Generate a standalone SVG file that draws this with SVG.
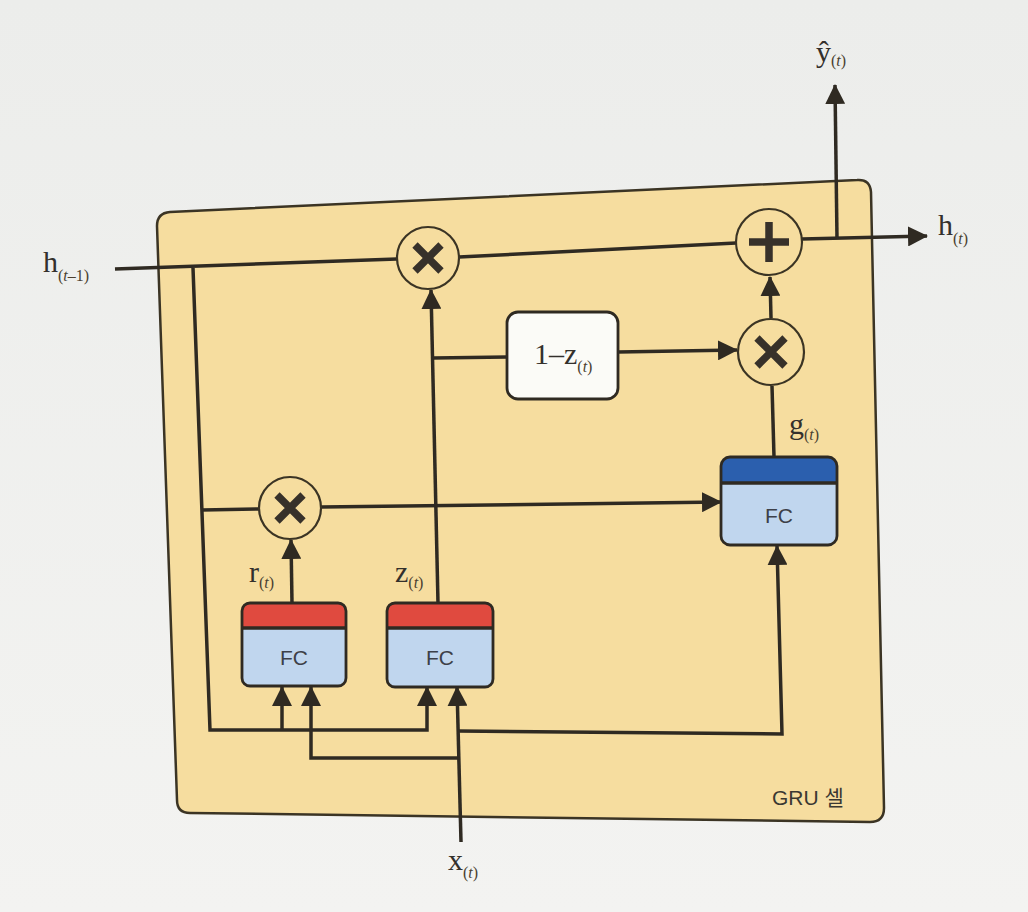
<svg xmlns="http://www.w3.org/2000/svg" width="1028" height="912" viewBox="0 0 1028 912">
<defs>
<linearGradient id="bg" x1="0" y1="0" x2="0" y2="1">
<stop offset="0" stop-color="#ecedeb"/>
<stop offset="1" stop-color="#f3f3f1"/>
</linearGradient>
<marker id="arr" viewBox="0 0 20 20" refX="19" refY="10" markerWidth="20" markerHeight="20" markerUnits="userSpaceOnUse" orient="auto">
<path d="M0,0 L20,10 L0,20 Z" fill="#2f2a22"/>
</marker>
</defs>
<style>
.ln{fill:none;stroke:#2f2a22;stroke-width:3.5;stroke-linejoin:miter}
.ar{marker-end:url(#arr)}
.op{fill:#f6dd9f;stroke:#3b3424;stroke-width:2.2}
.gl{stroke:#37312a;stroke-width:7.5;stroke-linecap:butt}
.fcb{fill:#c0d6ee}
.fco{fill:none;stroke:#2f2a22;stroke-width:2.8}
.red{fill:#e04a3f}
.blu{fill:#2b5fae}
.fct{font-family:"Liberation Sans",Arial,sans-serif;font-size:21px;fill:#3d4048;text-anchor:middle}
.lab{font-family:"Liberation Serif","Times New Roman",serif;font-size:30px;fill:#33302c}
.sub{font-size:16px;fill:#4a3f30}
.it{font-style:italic}
.cap{font-family:"Liberation Sans","Noto Sans CJK KR",sans-serif;font-size:21px;fill:#3a3832}
</style>
<rect x="0" y="0" width="1028" height="912" fill="url(#bg)"/>

<g id="cell">
<path d="M157,226 Q157,213 170,212 L857,180 Q870,179 871,192 L884,808 Q884,822 870,822 L190,813 Q177,813 177,800 Z" fill="#f6dd9f" stroke="#3b3424" stroke-width="2.5"/>
<text class="cap" x="772" y="805">GRU <tspan font-family="'Noto Sans CJK KR',sans-serif">셀</tspan></text>
</g>

<g id="connectors">
<path class="ln" d="M115,269 L397,259"/>
<path class="ln" d="M459,257 L736,243"/>
<path class="ln ar" d="M802,239 L927,236"/>
<path class="ln ar" d="M837,239 L835,85"/>
<path class="ln ar" d="M193,268 L210,730 L427,730 L427,687"/>
<path class="ln ar" d="M282,730 L282,687"/>
<path class="ln ar" d="M458,758 L311,758 L311,687"/>
<path class="ln ar" d="M461,842 L457,687"/>
<path class="ln ar" d="M458,731 L782,734 L777,546"/>
<path class="ln" d="M202,510 L259,509"/>
<path class="ln ar" d="M321,507 L721,502"/>
<path class="ln ar" d="M292,603 L291,540"/>
<path class="ln ar" d="M438,603 L431,290"/>
<path class="ln" d="M433,358 L507,357"/>
<path class="ln ar" d="M618,352 L737,350"/>
<path class="ln" d="M774,457 L772,386"/>
<path class="ln ar" d="M771,318 L770,277"/>
</g>

<g id="mul1">
<circle class="op" cx="428" cy="258" r="31"/>
<path class="gl" d="M415,245 L441,271 M441,245 L415,271"/>
</g>
<g id="mul2">
<circle class="op" cx="290" cy="508" r="31"/>
<path class="gl" d="M277,495 L303,521 M303,495 L277,521"/>
</g>
<g id="mul3">
<circle class="op" cx="771" cy="352" r="33"/>
<path class="gl" d="M757,338 L785,366 M785,338 L757,366"/>
</g>
<g id="add">
<circle class="op" cx="769" cy="242" r="33"/>
<path class="gl" d="M749,242 L789,242 M769,222 L769,262"/>
</g>

<g id="one-minus-z">
<rect x="507" y="312" width="111" height="87" rx="11" fill="#fbfbf7" stroke="#2f2a22" stroke-width="2.8"/>
<text class="lab" x="534" y="364" font-size="28">1–z<tspan class="sub" dy="8">(</tspan><tspan class="sub it">t</tspan><tspan class="sub">)</tspan></text>
</g>

<g id="fc-r">
<rect class="fcb" x="242" y="603" width="104" height="83" rx="8"/>
<path class="red" d="M242,628 L242,611 Q242,603 250,603 L338,603 Q346,603 346,611 L346,628 Z"/>
<path class="ln" d="M242,628 L346,628" stroke-width="2.5"/>
<rect class="fco" x="242" y="603" width="104" height="83" rx="8"/>
<text class="fct" x="294" y="665">FC</text>
</g>

<g id="fc-z">
<rect class="fcb" x="387" y="603" width="106" height="84" rx="8"/>
<path class="red" d="M387,628 L387,611 Q387,603 395,603 L485,603 Q493,603 493,611 L493,628 Z"/>
<path class="ln" d="M387,628 L493,628" stroke-width="2.5"/>
<rect class="fco" x="387" y="603" width="106" height="84" rx="8"/>
<text class="fct" x="440" y="665">FC</text>
</g>

<g id="fc-g">
<rect class="fcb" x="721" y="457" width="116" height="88" rx="9"/>
<path class="blu" d="M721,483 L721,466 Q721,457 730,457 L828,457 Q837,457 837,466 L837,483 Z"/>
<path class="ln" d="M721,483 L837,483" stroke-width="2.5"/>
<rect class="fco" x="721" y="457" width="116" height="88" rx="9"/>
<text class="fct" x="779" y="523">FC</text>
</g>

<g id="labels">
<text class="lab" x="43" y="272">h<tspan class="sub" dy="9">(</tspan><tspan class="sub it">t</tspan><tspan class="sub">–1)</tspan></text>
<text class="lab" x="816" y="62">ŷ<tspan class="sub" dy="4">(</tspan><tspan class="sub it">t</tspan><tspan class="sub">)</tspan></text>
<text class="lab" x="938" y="235">h<tspan class="sub" dy="9">(</tspan><tspan class="sub it">t</tspan><tspan class="sub">)</tspan></text>
<text class="lab" x="789" y="434">g<tspan class="sub" dy="6">(</tspan><tspan class="sub it">t</tspan><tspan class="sub">)</tspan></text>
<text class="lab" x="249" y="582">r<tspan class="sub" dy="6">(</tspan><tspan class="sub it">t</tspan><tspan class="sub">)</tspan></text>
<text class="lab" x="395" y="582">z<tspan class="sub" dy="6">(</tspan><tspan class="sub it">t</tspan><tspan class="sub">)</tspan></text>
<text class="lab" x="448" y="870">x<tspan class="sub" dy="8">(</tspan><tspan class="sub it">t</tspan><tspan class="sub">)</tspan></text>
</g>
</svg>
